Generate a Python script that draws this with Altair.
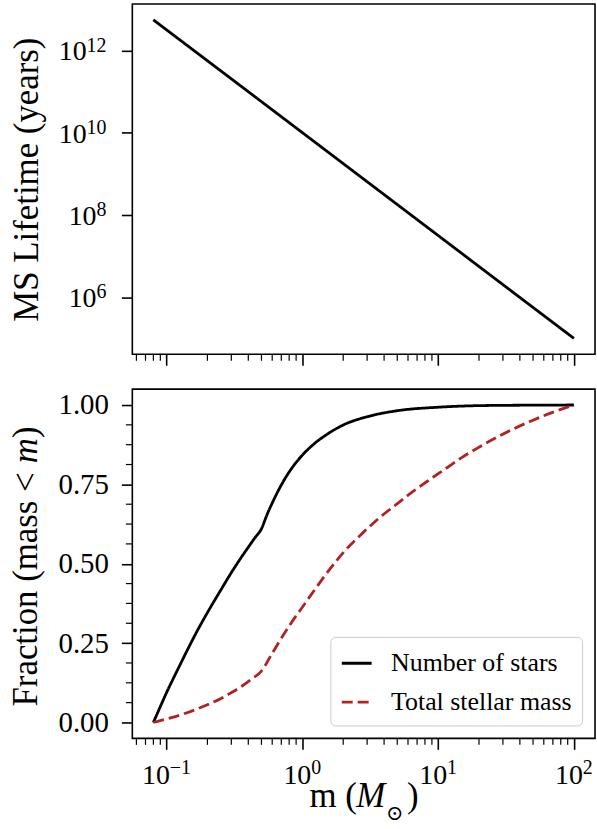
import altair as alt
import pandas as pd

FONT = "Liberation Serif"

# ---------------- data ----------------
mass_life = [0.08, 100.0]
lifetime_years = [5.6e12, 1.0e5]

m_number = [0.08, 0.09, 0.10, 0.12, 0.14, 0.17, 0.20, 0.25, 0.30, 0.35, 0.40,
            0.45, 0.50, 0.55, 0.60, 0.70, 0.80, 0.90, 1.0, 1.2, 1.5, 2.0,
            3.0, 5.0, 10.0, 20.0, 50.0, 100.0]
frac_number = [0.0, 0.050, 0.094, 0.164, 0.222, 0.292, 0.346, 0.416, 0.472, 0.516,
               0.552, 0.583, 0.610, 0.655, 0.691, 0.748, 0.789, 0.819, 0.842, 0.875,
               0.906, 0.937, 0.963, 0.982, 0.993, 0.998, 0.9995, 1.0]

m_mass = [0.08, 0.10, 0.14, 0.20, 0.25, 0.30, 0.36, 0.42, 0.50, 0.60, 0.70,
          0.80, 0.90, 1.0, 1.2, 1.6, 2.1, 2.8, 3.7, 4.9, 6.5, 8.6, 11.4, 15.0,
          20.0, 27.0, 36.0, 48.0, 65.0, 100.0]
frac_mass = [0.0, 0.011, 0.030, 0.056, 0.075, 0.094, 0.115, 0.136, 0.162, 0.218,
             0.265, 0.304, 0.336, 0.363, 0.411, 0.484, 0.545, 0.598, 0.645, 0.686,
             0.727, 0.764, 0.800, 0.835, 0.867, 0.898, 0.925, 0.949, 0.972, 1.0]

series_names = ["Number of stars", "Total stellar mass"]
series_colors = ["#000000", "#b22222"]

x_domain = [0.056, 143.0]
life_domain = [4.1e4, 1.35e13]
frac_domain = [-0.05, 1.05]

# tick values and label parts ("10" + exponent)
x_major = [0.1, 1.0, 10.0, 100.0]
x_major_exp = ["−1", "0", "1", "2"]
x_minor = [0.06, 0.07, 0.08, 0.09,
           0.2, 0.3, 0.4, 0.5, 0.6, 0.7, 0.8, 0.9,
           2, 3, 4, 5, 6, 7, 8, 9,
           20, 30, 40, 50, 60, 70, 80, 90]
life_major = [1e6, 1e8, 1e10, 1e12]
life_exp = ["6", "8", "10", "12"]
frac_major = [0.0, 0.25, 0.5, 0.75, 1.0]
frac_minor = [0.0625, 0.125, 0.1875, 0.3125, 0.375, 0.4375,
              0.5625, 0.625, 0.6875, 0.8125, 0.875, 0.9375]

TOP_W, TOP_H = 465, 352
BOT_W, BOT_H = 465, 351
MAJOR_TICK = 11
MINOR_TICK = 6.5
TICK_FS = 28      # size of the "10" part of tick labels
EXP_FS = 20       # size of the exponent part
DIGIT_W = 0.5 * TICK_FS


def exp_width(e):
    w = 0.0
    for ch in e:
        w += 0.564 * EXP_FS if ch == "−" else 0.5 * EXP_FS
    return w


xscale = alt.Scale(type="log", domain=x_domain, nice=False)
life_scale = alt.Scale(type="log", domain=life_domain, nice=False)
frac_scale = alt.Scale(domain=frac_domain, nice=False, zero=False)

x_axis_top = alt.Axis(values=x_major, labels=False, title=None, tickSize=MAJOR_TICK)
x_axis_bot = alt.Axis(values=x_major, labels=False, title=None, tickSize=MAJOR_TICK)
y_axis_life = alt.Axis(values=life_major, labels=False, title="MS Lifetime (years)",
                       titleX=-88, tickSize=MAJOR_TICK)
y_axis_frac = alt.Axis(values=frac_major, format=".2f", title=None,
                       tickSize=MAJOR_TICK, labelPadding=13, labelFontSize=29,
                       labelFlush=False, labelOverlap=False)


def txt(df, text, x, y, align, baseline, size, style="normal", font=FONT, dx=0, dy=0, angle=0):
    return alt.Chart(df).mark_text(
        text=text, font=font, fontSize=size, fontStyle=style, align=align,
        baseline=baseline, color="black", dx=dx, dy=dy, angle=angle,
    ).encode(x=x, y=y)


# ---------------- top panel ----------------
life_df = pd.DataFrame({"m": mass_life, "t": lifetime_years})
top_line = alt.Chart(life_df).mark_line(color="black", strokeWidth=2.8).encode(
    x=alt.X("m:Q", scale=xscale, axis=x_axis_top),
    y=alt.Y("t:Q", scale=life_scale, axis=y_axis_life),
)
top_minor = alt.Chart(pd.DataFrame({"m": x_minor})).mark_rule(
    color="black", strokeWidth=1.2).encode(
    x=alt.X("m:Q", scale=xscale, axis=x_axis_top),
    y=alt.value(TOP_H), y2=alt.value(TOP_H + MINOR_TICK),
)

top_layers = [top_line, top_minor]
for nd in sorted(set(len(e) for e in life_exp)):
    sub = pd.DataFrame({"t": [v for v, e in zip(life_major, life_exp) if len(e) == nd],
                        "e": [e for e in life_exp if len(e) == nd]})
    ew = exp_width("0" * nd)
    yenc = alt.Y("t:Q", scale=life_scale, axis=y_axis_life)
    top_layers.append(txt(sub, "10", alt.value(-26 - ew), yenc, "right", "alphabetic",
                          TICK_FS, dy=10))
    top_layers.append(alt.Chart(sub).mark_text(
        font=FONT, fontSize=EXP_FS, align="right", baseline="alphabetic",
        color="black", dy=1).encode(x=alt.value(-26), y=yenc, text="e:N"))

top = alt.layer(*top_layers).properties(width=TOP_W, height=TOP_H)

# ---------------- bottom panel ----------------
frac_df = pd.concat([
    pd.DataFrame({"m": m_number, "f": frac_number, "series": series_names[0],
                  "o": range(len(m_number))}),
    pd.DataFrame({"m": m_mass, "f": frac_mass, "series": series_names[1],
                  "o": range(len(m_mass))}),
])

curves = alt.Chart(frac_df).mark_line(strokeWidth=2.8, interpolate="monotone").encode(
    x=alt.X("m:Q", scale=xscale, axis=x_axis_bot),
    y=alt.Y("f:Q", scale=frac_scale, axis=y_axis_frac),
    color=alt.Color("series:N",
                    scale=alt.Scale(domain=series_names, range=series_colors),
                    legend=alt.Legend(title=None)),
    strokeDash=alt.StrokeDash("series:N",
                              scale=alt.Scale(domain=series_names, range=[[1, 0], [11, 5]]),
                              legend=alt.Legend(title=None)),
    order="o:Q",
)

bot_minor_x = alt.Chart(pd.DataFrame({"m": x_minor})).mark_rule(
    color="black", strokeWidth=1.2).encode(
    x=alt.X("m:Q", scale=xscale, axis=x_axis_bot),
    y=alt.value(BOT_H), y2=alt.value(BOT_H + MINOR_TICK),
)
bot_minor_y = alt.Chart(pd.DataFrame({"f": frac_minor})).mark_rule(
    color="black", strokeWidth=1.2).encode(
    y=alt.Y("f:Q", scale=frac_scale, axis=y_axis_frac),
    x=alt.value(0), x2=alt.value(-MINOR_TICK),
)

bot_layers = [curves, bot_minor_x, bot_minor_y]

# x tick labels: "10" with a raised, smaller exponent, centred on the tick
widths = sorted(set(exp_width(e) for e in x_major_exp))
for ew in widths:
    sub = pd.DataFrame({"m": [v for v, e in zip(x_major, x_major_exp) if exp_width(e) == ew],
                        "e": [e for e in x_major_exp if exp_width(e) == ew]})
    total = 2 * DIGIT_W + ew
    xenc = alt.X("m:Q", scale=xscale, axis=x_axis_bot)
    bot_layers.append(txt(sub, "10", xenc, alt.value(BOT_H + 46), "left", "alphabetic",
                          TICK_FS, dx=-total / 2))
    bot_layers.append(alt.Chart(sub).mark_text(
        font=FONT, fontSize=EXP_FS, align="left", baseline="alphabetic", color="black",
        dx=-total / 2 + 2 * DIGIT_W).encode(x=xenc, y=alt.value(BOT_H + 36), text="e:N"))

# x axis title: m (M_sun)
one = pd.DataFrame({"k": [0]})
tb = 420
bot_layers += [
    txt(one, "m (", alt.value(178), alt.value(tb), "left", "alphabetic", 35),
    txt(one, "M", alt.value(225), alt.value(tb), "left", "alphabetic", 35, style="italic"),
    txt(one, "⊙", alt.value(255), alt.value(tb + 7), "left", "middle", 21, font="DejaVu Serif"),
    txt(one, ")", alt.value(276), alt.value(tb), "left", "alphabetic", 35),
]
# y axis title: Fraction (mass < m), read bottom to top
ty = -96
bot_layers += [
    txt(one, "Fraction (mass < ", alt.value(ty), alt.value(319), "left", "alphabetic", 35, angle=270),
    txt(one, "m", alt.value(ty), alt.value(74.5), "left", "alphabetic", 35, style="italic", angle=270),
    txt(one, ")", alt.value(ty), alt.value(49), "left", "alphabetic", 35, angle=270),
]

bottom = alt.layer(*bot_layers).properties(width=BOT_W, height=BOT_H)

chart = alt.vconcat(top, bottom, spacing=21).resolve_legend(
    color="independent", strokeDash="independent"
).properties(
    padding={"left": 8, "top": 1, "right": 1, "bottom": 0},
    background="white",
).configure_view(
    stroke="black", strokeWidth=1.6
).configure_axis(
    domain=False, grid=False,
    tickColor="black", tickWidth=1.6,
    labelFont=FONT, labelFontSize=29, labelColor="black",
    titleFont=FONT, titleFontSize=35, titleFontWeight="normal", titleColor="black",
).configure_legend(
    orient="bottom-right", offset=13, padding=10, rowPadding=9,
    fillColor="rgba(255,255,255,0.85)", strokeColor="#cccccc", cornerRadius=5,
    labelFont=FONT, labelFontSize=26, labelColor="black", labelLimit=0,
    symbolType="stroke", symbolSize=900, symbolStrokeWidth=2.8, labelOffset=18,
)

chart.save("out.html", embed_options={"renderer": "svg", "actions": False})
